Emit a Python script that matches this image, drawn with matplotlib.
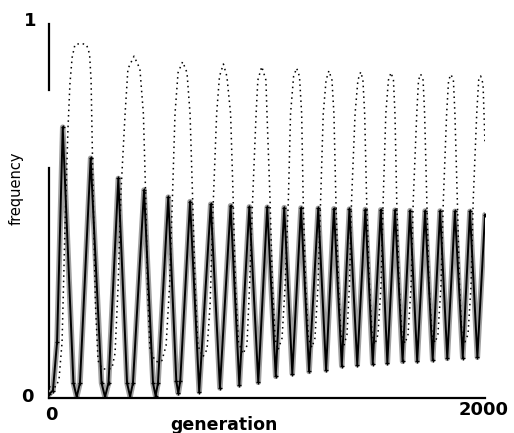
import matplotlib
matplotlib.use("Agg")
import matplotlib.pyplot as plt

# ---- data ----
# dotted series (slow oscillation)
dot_gen = [0, 32, 46, 60, 73, 87, 96, 106, 119, 146, 172, 186, 193, 197, 204, 213, 225,
           243, 271, 289, 303, 317, 330, 349, 362, 390, 417, 433, 443, 452, 463, 486,
           500, 518, 537, 553, 567, 578, 592, 613, 633, 647, 658, 670, 683, 706, 725,
           739, 752, 769, 782, 800, 816, 833, 844, 855, 869, 890, 908, 920, 934, 950,
           958, 976, 995, 1000, 1014, 1025, 1037, 1050, 1069, 1083, 1098, 1108, 1122,
           1136, 1149, 1159, 1166, 1177, 1190, 1206, 1220, 1234, 1246, 1258, 1271,
           1284, 1298, 1307, 1316, 1328, 1339, 1353, 1367, 1378, 1388, 1404, 1417,
           1430, 1440, 1448, 1457, 1470, 1482, 1495, 1509, 1523, 1533, 1545, 1557,
           1569, 1580, 1587, 1595, 1606, 1619, 1633, 1647, 1661, 1671, 1687, 1695,
           1705, 1716, 1723, 1733, 1743, 1757, 1771, 1784, 1798, 1809, 1824, 1833,
           1844, 1855, 1862, 1873, 1883, 1894, 1908, 1922, 1936, 1946, 1962, 1971,
           1980, 1991, 2000]
dot_val = [0.030, 0.030, 0.050, 0.150, 0.450, 0.720, 0.840, 0.910, 0.945, 0.948, 0.945,
           0.920, 0.850, 0.720, 0.500, 0.250, 0.100, 0.078, 0.077, 0.080, 0.120, 0.300,
           0.550, 0.760, 0.880, 0.914, 0.880, 0.760, 0.550, 0.300, 0.130, 0.100, 0.096,
           0.100, 0.140, 0.300, 0.550, 0.760, 0.870, 0.899, 0.870, 0.760, 0.550, 0.300,
           0.140, 0.110, 0.130, 0.250, 0.500, 0.760, 0.860, 0.893, 0.860, 0.760, 0.550,
           0.300, 0.150, 0.118, 0.140, 0.300, 0.530, 0.760, 0.850, 0.886, 0.850, 0.760,
           0.530, 0.300, 0.160, 0.128, 0.160, 0.300, 0.530, 0.760, 0.860, 0.882, 0.860,
           0.760, 0.530, 0.300, 0.160, 0.135, 0.160, 0.300, 0.530, 0.760, 0.850, 0.875,
           0.850, 0.760, 0.530, 0.300, 0.170, 0.140, 0.170, 0.300, 0.530, 0.760, 0.850,
           0.872, 0.850, 0.760, 0.530, 0.300, 0.170, 0.143, 0.170, 0.300, 0.530, 0.760,
           0.850, 0.870, 0.850, 0.760, 0.530, 0.300, 0.170, 0.146, 0.170, 0.300, 0.530,
           0.760, 0.850, 0.866, 0.850, 0.760, 0.530, 0.300, 0.170, 0.148, 0.170, 0.300,
           0.530, 0.760, 0.850, 0.865, 0.850, 0.760, 0.530, 0.300, 0.170, 0.150, 0.170,
           0.300, 0.530, 0.760, 0.850, 0.861, 0.840, 0.680]

# plus series (fast oscillation)
plus_gen = [0, 18, 37, 63, 112, 127, 142, 191, 241, 257, 273, 318, 358, 372, 385, 436,
            477, 489, 500, 547, 584, 593, 602, 647, 689, 742, 784, 833, 873, 919, 960,
            1001, 1040, 1079, 1116, 1156, 1193, 1235, 1271, 1307, 1343, 1378, 1414,
            1451, 1485, 1522, 1552, 1587, 1622, 1656, 1689, 1725, 1760, 1794, 1827,
            1862, 1898, 1931, 1965, 2000]
plus_val = [0.010, 0.020, 0.150, 0.724, 0.040, 0.003, 0.040, 0.641, 0.040, 0.003, 0.040,
            0.587, 0.040, 0.004, 0.040, 0.556, 0.040, 0.006, 0.040, 0.537, 0.045, 0.013,
            0.045, 0.525, 0.017, 0.518, 0.027, 0.514, 0.035, 0.511, 0.042, 0.510, 0.058,
            0.509, 0.065, 0.508, 0.071, 0.507, 0.075, 0.506, 0.086, 0.505, 0.089, 0.504,
            0.092, 0.503, 0.094, 0.502, 0.098, 0.501, 0.099, 0.500, 0.102, 0.500, 0.106,
            0.499, 0.108, 0.499, 0.109, 0.490]

x_ticks = [0, 2000]
x_tick_labels = ["0", "2000"]
y_tick_labels = ["0", "1"]

# ---- figure ----
W, H = 514, 433
fig = plt.figure(figsize=(W / 100, H / 100), dpi=100)
ax = fig.add_axes([49 / W, 1 - 398 / H, (485 - 49) / W, (398 - 24) / H])
ax.set_xlim(0, 2000)
ax.set_ylim(0, 1)
for s in ["top", "right", "left"]:
    ax.spines[s].set_visible(False)
ax.spines["bottom"].set_linewidth(1.6)
ax.set_xticks([])
ax.set_yticks([])
# left axis line (drawn with a gap, as in the scanned original)
ax.axvline(0, ymin=0, ymax=0.615, color="black", lw=1.6, clip_on=False)
ax.axvline(0, ymin=0.824, ymax=1.0, color="black", lw=1.6, clip_on=False)

# plus series
ax.plot(plus_gen, plus_val, color="#a0a0a0", lw=4.0, solid_joinstyle="round",
        solid_capstyle="round", zorder=2)
ax.plot(plus_gen, plus_val, color="black", lw=1.4, marker="+", ms=3.5, mew=0.9,
        solid_joinstyle="round", zorder=3)
# dotted series
ax.plot(dot_gen, dot_val, color="black", lw=1.1, linestyle=(0, (1, 2.5)), zorder=4)

# texts
fig.text(27.5 / W, 1 - 396.5 / H, y_tick_labels[0], ha="center", va="center",
         fontsize=13, fontweight="bold")
fig.text(30 / W, 1 - 21.5 / H, y_tick_labels[1], ha="center", va="center",
         fontsize=13, fontweight="bold")
fig.text(51 / W, 1 - 415 / H, x_tick_labels[0], ha="center", va="center",
         fontsize=13, fontweight="bold")
fig.text(484 / W, 1 - 410 / H, x_tick_labels[1], ha="center", va="center",
         fontsize=13, fontweight="bold")
fig.text(224 / W, 1 - 425 / H, "generation", ha="center", va="center",
         fontsize=12.5, fontweight="bold")
fig.text(16.5 / W, 1 - 188.5 / H, "frequency", ha="center", va="center",
         rotation=90, fontsize=10.5)

fig.savefig("out.png", dpi=100)
